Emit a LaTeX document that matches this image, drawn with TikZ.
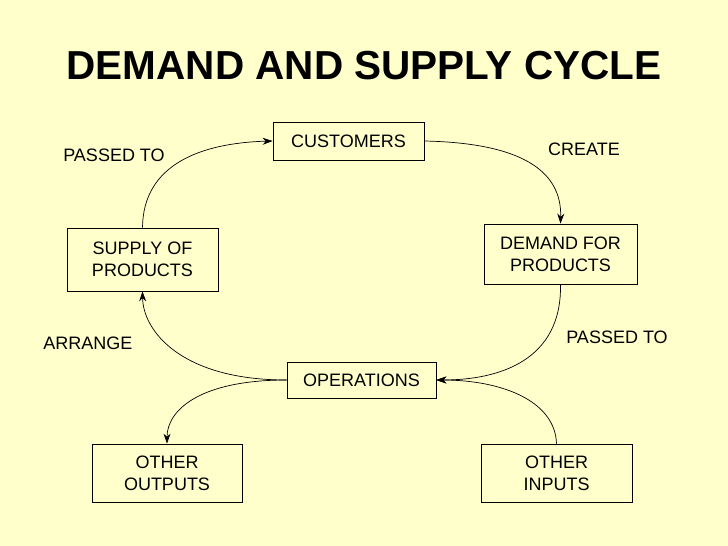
\documentclass[tikz,border=0pt]{standalone}
\usepackage{fontspec}
\setmainfont{Liberation Sans}
\usetikzlibrary{arrows.meta}
\definecolor{bg}{HTML}{FFFFCC}
\begin{document}
\begin{tikzpicture}[x=1pt,y=-1pt,
  box/.style={draw=black,line width=0.8pt,fill=bg,minimum width=151pt,inner sep=0pt,align=center,font=\fontsize{18}{22}\selectfont},
  lab/.style={font=\fontsize{18}{20}\selectfont},
  arr/.style={-{Stealth[length=10pt,width=7pt]},line width=0.7pt}]
\fill[bg] (0,0) rectangle (728,546);
\useasboundingbox (0,0) rectangle (728,546);
\node[font=\bfseries\fontsize{40.5}{46}\selectfont] (t) at (364,66) {DEMAND AND SUPPLY CYCLE};
\node[box,minimum height=38pt] (cu) at (348.5,141) {CUSTOMERS};
\node[box,minimum height=60pt,minimum width=153pt] (de) at (560.5,254) {DEMAND FOR\\PRODUCTS};
\node[box,minimum height=63pt] (su) at (142.5,259.5) {SUPPLY OF\\PRODUCTS};
\node[box,minimum height=36pt,minimum width=149pt] (op) at (361.5,380) {OPERATIONS};
\node[box,minimum height=58pt,minimum width=150pt] (oo) at (167,473) {OTHER\\OUTPUTS};
\node[box,minimum height=58pt] (oi) at (556.5,473) {OTHER\\INPUTS};
\node[lab] (l1) at (114,155) {PASSED TO};
\node[lab] (l2) at (584,149) {CREATE};
\node[lab] (l3) at (88,343) {ARRANGE};
\node[lab] (l4) at (617,337) {PASSED TO};
\draw[arr] (su.north) .. controls (143,165) and (200,143) .. (cu.west);
\draw[arr] (cu.east) .. controls (520,143) and (562,170) .. (de.north);
\draw[arr] (de.south) .. controls (562,360) and (500,380) .. (op.east);
\draw[arr] (op.west) .. controls (180,380) and (143,330) .. (su.south);
\draw[arr] (op.west) .. controls (200,380) and (167,410) .. (oo.north);
\draw[arr] (oi.north) .. controls (555,400) and (500,380) .. (op.east);
\end{tikzpicture}
\end{document}
